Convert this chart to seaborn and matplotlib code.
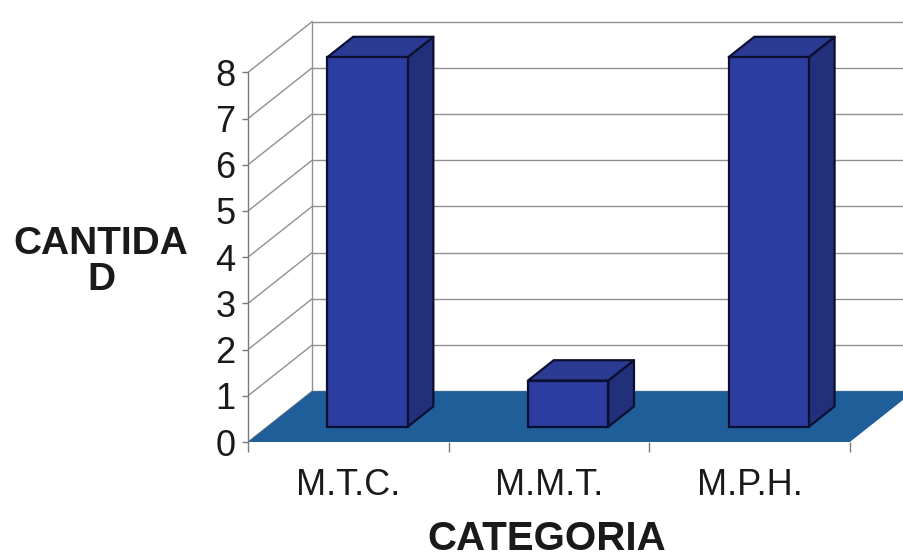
import matplotlib
matplotlib.use("Agg")
import matplotlib.pyplot as plt
from matplotlib.patches import Polygon
from matplotlib.transforms import Affine2D
from matplotlib.ticker import FixedLocator
import seaborn as sns

# ---- data ----
categories = ["M.T.C.", "M.M.T.", "M.P.H."]
cantidad = [8, 1, 8]
y_ticks = [0, 1, 2, 3, 4, 5, 6, 7, 8]

sns.set_theme(style="white")
plt.rcParams["font.family"] = ["Liberation Sans", "DejaVu Sans"]

fig = plt.figure(figsize=(9.04, 5.59), dpi=100)
ax = fig.add_axes([248 / 904, 117 / 559, 656 / 904, 429.7 / 559])

# oblique depth of the floor and walls, in data units
DX, DY = 0.32, 1.1
BAR_W = 0.4
F0, F1 = 0.3, 0.7  # slice of the depth taken by the bars

FRONT = "#2c3ca0"
SIDE = "#22307c"
TOP = "#2b3a92"
EDGE = "#0c1030"
FLOOR = "#1f5e98"
GRID = "#909090"

x_left = -0.5
x_right = len(categories) - 0.5

# side wall and back wall gridlines
for t in y_ticks:
    ax.plot([x_left, x_left + DX], [t, t + DY], color=GRID, lw=1, zorder=0.5)
    ax.plot([x_left + DX, x_right + 2], [t + DY, t + DY], color=GRID, lw=1, zorder=0.5)
ax.plot([x_left + DX] * 2, [DY, y_ticks[-1] + DY], color=GRID, lw=1, zorder=0.5)

# floor
ax.add_patch(Polygon([(x_left, 0), (x_right, 0), (x_right + DX, DY), (x_left + DX, DY)],
                     closed=True, facecolor=FLOOR, edgecolor="none", zorder=1))

# front faces of the columns
sns.barplot(x=categories, y=cantidad, width=BAR_W, color=FRONT, saturation=1,
            edgecolor=EDGE, linewidth=1.6, ax=ax, zorder=3)

d = F1 - F0
shift = Affine2D().translate(F0 * DX, F0 * DY) + ax.transData
for bar in ax.containers[0]:
    bar.set_transform(shift)
    x, w, h = bar.get_x(), bar.get_width(), bar.get_height()
    xl = x + F0 * DX
    xr = x + w + F0 * DX
    y0 = F0 * DY
    side = [(xr, y0), (xr + d * DX, y0 + d * DY), (xr + d * DX, y0 + h + d * DY), (xr, y0 + h)]
    top = [(xl, y0 + h), (xr, y0 + h), (xr + d * DX, y0 + h + d * DY), (xl + d * DX, y0 + h + d * DY)]
    ax.add_patch(Polygon(side, closed=True, facecolor=SIDE, edgecolor=EDGE, lw=1.6,
                         joinstyle="round", zorder=2))
    ax.add_patch(Polygon(top, closed=True, facecolor=TOP, edgecolor=EDGE, lw=1.6,
                         joinstyle="round", zorder=2))

ax.set_xlim(x_left, 2.77)
ax.set_ylim(0, 9.3)

for s in ["top", "right", "bottom"]:
    ax.spines[s].set_visible(False)
ax.spines["left"].set_bounds(0, y_ticks[-1])
ax.spines["left"].set_color("#7a7a7a")
ax.spines["left"].set_linewidth(1)

ax.set_yticks(y_ticks)
ax.set_yticklabels([str(t) for t in y_ticks])
ax.tick_params(axis="y", left=True, length=4, width=1, color="#7a7a7a",
               labelsize=26, pad=5, labelcolor="#1a1a1a")
ax.xaxis.set_minor_locator(FixedLocator([x_left + i for i in range(len(categories) + 1)]))
ax.tick_params(axis="x", which="major", bottom=True, length=0, labelsize=26,
               pad=19, labelcolor="#1a1a1a")
ax.tick_params(axis="x", which="minor", bottom=True, length=7, width=1, color="#7a7a7a")

ax.set_xlabel("CATEGORIA", fontsize=29, fontweight="bold", color="#1a1a1a")
ax.xaxis.set_label_coords(0.456, -0.2257)
ax.xaxis.label.set_va("center")
ax.set_ylabel("CANTIDA\nD", fontsize=28, fontweight="bold", color="#1a1a1a",
              rotation=0, ha="center", va="center", linespacing=1.0,
              multialignment="center")
ax.yaxis.set_label_coords(-0.224, 0.42)

fig.savefig("out.png", dpi=100, facecolor="white")
